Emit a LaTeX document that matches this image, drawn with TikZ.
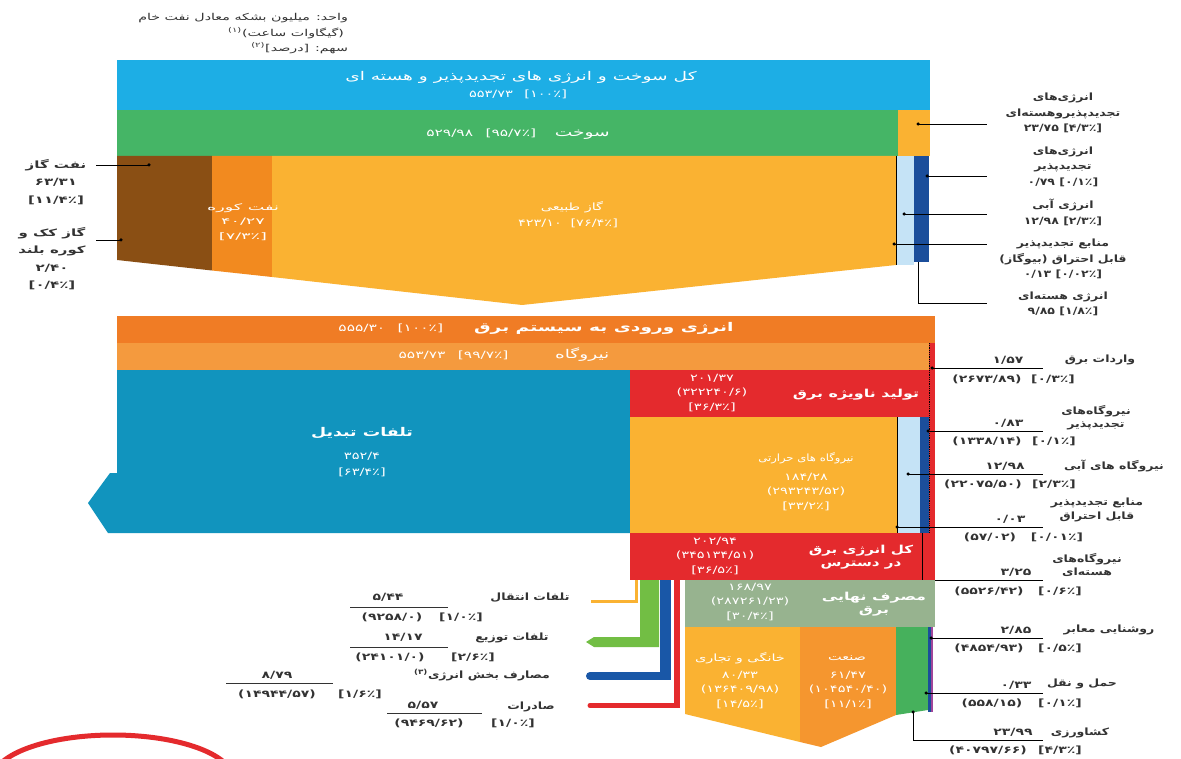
\documentclass[tikz,border=0pt]{standalone}
\usepackage{fontspec}
\newfontfamily\fa[Script=Arabic]{DejaVu Sans}
\TeXXeTstate=1
\newcommand{\rl}[1]{\beginR #1\endR}
\newcommand{\pc}[1]{[#1٪]}
\definecolor{cblue}{HTML}{1DAEE5}
\definecolor{cgreen}{HTML}{45B566}
\definecolor{cyel}{HTML}{FAB232}
\definecolor{cbrown}{HTML}{8A4F14}
\definecolor{cdor}{HTML}{F28A1F}
\definecolor{clblue}{HTML}{C5E3F6}
\definecolor{cdblue}{HTML}{1B4E9B}
\definecolor{corA}{HTML}{F07C25}
\definecolor{corB}{HTML}{F49A3E}
\definecolor{cteal}{HTML}{1194BE}
\definecolor{cred}{HTML}{E42A2D}
\definecolor{cgray}{HTML}{97B38F}
\definecolor{corC}{HTML}{F5962F}
\definecolor{cagr}{HTML}{46B15C}
\definecolor{clgr}{HTML}{72BE44}
\definecolor{cbl}{HTML}{1957A7}
\definecolor{cmag}{HTML}{A0459A}
\definecolor{txt}{HTML}{333333}
\begin{document}
\begin{tikzpicture}[x=1pt,y=-1pt,
  every node/.style={inner sep=0pt, outer sep=0pt, font=\fa\fontsize{8}{10}\selectfont},
  hdr/.style={font=\fa\fontsize{9.5}{11}\selectfont, text=txt, anchor=east, xscale=1.5},
  wt/.style={text=white, align=center, font=\fa\fontsize{10}{14.5}\selectfont, xscale=1.45},
  wl/.style={text=white, align=center, font=\fa\fontsize{10}{13}\selectfont, xscale=1.45},
  wb/.style={text=white, align=center, font=\fa\bfseries\fontsize{11}{13}\selectfont, xscale=1.45},
  wh/.style={text=white, font=\fa\fontsize{12}{14}\selectfont, xscale=1.55},
  dl/.style={text=txt, align=center, font=\fa\bfseries\fontsize{10}{15.5}\selectfont, xscale=1.25},
  dn/.style={text=txt, font=\fa\bfseries\fontsize{10}{12}\selectfont, xscale=1.4},
  lead/.style={draw=black, line width=0.9pt},
  dot/.style={circle, fill=black, minimum size=3.5pt},
  uline/.style={draw=txt, line width=0.9pt}]
\useasboundingbox (0,0) rectangle (1181,759);
\fill[white] (0,0) rectangle (1181,759);

% ---------- header
\node[hdr] (h1) at (348,18) {\rl{واحد: میلیون بشکه معادل نفت خام}};
\node[hdr] (h2) at (344,33) {\rl{(گیگاوات ساعت)\textsuperscript{(۱)}}};
\node[hdr] (h3) at (348,48) {\rl{سهم: [درصد]\textsuperscript{(۲)}}};

% ---------- top section shapes
\fill[cblue] (117,60) rectangle (930,110);
\fill[cgreen] (117,110) rectangle (898,156);
\fill[cyel] (898,110) rectangle (930,156);
\fill[cbrown] (117,156) -- (212,156) -- (212,270.5) -- (117,260) -- cycle;
\fill[cdor] (212,156) -- (272,156) -- (272,277) -- (212,270.5) -- cycle;
\fill[cyel] (272,156) -- (896,156) -- (896,265) -- (522,305) -- (272,277) -- cycle;
\fill[clblue] (896,156) rectangle (914,265);
\fill[cdblue] (914,156) rectangle (929,262);
\coordinate (tl0) at (896,156); \coordinate (tl1) at (896,265);
\draw[line width=0.9pt] (tl0) -- (tl1);

\node[wh] (tb) at (521,77) {\rl{کل سوخت و انرژی های تجدیدپذیر و هسته ای}};
\node[wt] (tbn) at (518,94) {۵۵۳/۷۳\hspace{8pt}\pc{۱۰۰}};
\node[wh] (tg) at (518,134) {\rl{سوخت\hspace{12pt}{\fontsize{10}{12}\selectfont\pc{۹۵/۷}\hspace{8pt}۵۲۹/۹۸}}};
\node[wt, font=\fa\fontsize{9}{14.5}\selectfont, xscale=1.35] (tfo) at (243,222) {\rl{نفت کوره}\\۴۰/۲۷\\\pc{۷/۳}};
\node[wl] (tng) at (572,207) {\rl{گاز طبیعی}};
\node[wt] (tngn) at (568,223) {۴۲۳/۱۰\hspace{6pt}\pc{۷۶/۴}};

% left labels
\node[dl, font=\fa\bfseries\fontsize{10}{17.5}\selectfont, xscale=1.2] (lgo) at (56,182) {\rl{نفت گاز}\\۶۳/۳۱\\\pc{۱۱/۴}};
\node[dl, font=\fa\bfseries\fontsize{10}{17.5}\selectfont, xscale=1.2] (lcg) at (52,258.5) {\rl{گاز کک و}\\\rl{کوره بلند}\\۲/۴۰\\\pc{۰/۴}};
\coordinate (lgoa) at (96,165); \node[dot] (lgod) at (149,165) {};
\coordinate (lcga) at (96,240); \node[dot] (lcgd) at (121,240) {};
\draw[lead] (lgoa) -- (lgod.center);
\draw[lead] (lcga) -- (lcgd.center);

% top right labels
\node[dl] (r0) at (1063,113) {\rl{انرژی‌های}\\\rl{تجدیدپذیروهسته‌ای}\\۲۳/۷۵ \pc{۴/۳}};
\node[dl] (r1) at (1063,166.5) {\rl{انرژی‌های}\\\rl{تجدیدپذیر}\\۰/۷۹ \pc{۰/۱}};
\node[dl] (r2) at (1063,212.5) {\rl{انرژی آبی}\\۱۲/۹۸ \pc{۲/۳}};
\node[dl] (r3) at (1063,259) {\rl{منابع تجدیدپذیر}\\\rl{قابل احتراق (بیوگاز)}\\۰/۱۳ \pc{۰/۰۲}};
\node[dl] (r4) at (1063,304) {\rl{انرژی هسته‌ای}\\۹/۸۵ \pc{۱/۸}};
\node[dot] (d0) at (918,124) {}; \coordinate (e0) at (987,124);
\node[dot] (d1) at (927,176) {}; \coordinate (e1) at (987,176);
\node[dot] (d2) at (904,214) {}; \coordinate (e2) at (987,214);
\node[dot] (d3) at (894,244) {}; \coordinate (e3) at (987,244);
\coordinate (d4) at (918,262); \coordinate (e4) at (987,303);
\draw[lead] (d0.center) -- (e0);
\draw[lead] (d1.center) -- (e1);
\draw[lead] (d2.center) -- (e2);
\draw[lead] (d3.center) -- (e3);
\draw[lead] (d4) |- (e4);

% ---------- middle section shapes
\fill[corA] (117,316) rectangle (935,343);
\fill[corB] (117,343) rectangle (929,370);
\fill[cred] (929,343) rectangle (935,533);
\fill[cteal] (117,370) -- (630,370) -- (630,533) -- (108,533) -- (88,503) -- (110,473) -- (117,473) -- cycle;
\fill[cred] (630,370) rectangle (935,417);
\fill[cyel] (630,417) rectangle (897,533);
\fill[clblue] (897,417) rectangle (920,533);
\fill[cdblue] (920,417) rectangle (929,533);
\coordinate (ml0) at (897,417); \coordinate (ml1) at (897,533);
\draw[line width=0.9pt] (ml0) -- (ml1);
\coordinate (dt0) at (929,343); \coordinate (dt1) at (929,533);
\draw[line width=0.8pt, densely dotted] (dt0) -- (dt1);
\fill[cred] (630,533) rectangle (935,580);

\node[wh, font=\fa\bfseries\fontsize{12}{14}\selectfont] (mi) at (536,328) {\rl{انرژی ورودی به سیستم برق\hspace{20pt}{\mdseries\fontsize{10}{12}\selectfont\pc{۱۰۰}\hspace{8pt}۵۵۵/۳۰}}};
\node[wh] (mp) at (504,355) {\rl{نیروگاه\hspace{30pt}{\fontsize{10}{12}\selectfont\pc{۹۹/۷}\hspace{8pt}۵۵۳/۷۳}}};
\node[wb, font=\fa\bfseries\fontsize{12}{14}\selectfont] (tl) at (362,433) {\rl{تلفات تبدیل}};
\node[wt, font=\fa\fontsize{10}{16}\selectfont] (tln) at (362,465) {۳۵۲/۴\\\pc{۶۳/۴}};
\node[wt] (g1n) at (712,393) {۲۰۱/۳۷\\(۳۲۲۲۴۰/۶)\\\pc{۳۶/۳}};
\node[wb] (g1) at (856,395) {\rl{تولید ناویژه برق}};
\node[wl, xscale=0.8] (th) at (806,458) {\rl{نیروگاه های حرارتی}};
\node[wt] (thn) at (806,492) {۱۸۴/۲۸\\(۲۹۳۲۴۳/۵۲)\\\pc{۳۳/۲}};
\node[wt] (g2n) at (715,556) {۲۰۲/۹۴\\(۳۴۵۱۳۴/۵۱)\\\pc{۳۶/۵}};
\node[wb, xscale=0.95] (g2) at (861,557.5) {\rl{کل انرژی برق}\\\rl{در دسترس}};

% middle right labels
\node[dot] (impd) at (932,368) {}; \coordinate (impe) at (1043,368);
\draw[lead] (impd.center) -- (impe);
\node[dn] (impn) at (1008,360) {۱/۵۷};
\node[dn] (impg) at (987,379) {(۲۶۷۳/۸۹)};
\node[dn] (impp) at (1053,379) {\pc{۰/۳}};
\node[dl] (impl) at (1100,360) {\rl{واردات برق}};

\node[dot] (rpd) at (928,431) {}; \coordinate (rpe) at (1043,431);
\draw[lead] (rpd.center) -- (rpe);
\node[dn] (rpn) at (1008,423) {۰/۸۳};
\node[dn] (rpg) at (987,441) {(۱۳۳۸/۱۴)};
\node[dn] (rpp) at (1054,441) {\pc{۰/۱}};
\node[dl, font=\fa\bfseries\fontsize{10}{13}\selectfont] (rpl) at (1096,417.5) {\rl{نیروگاه‌های}\\\rl{تجدیدپذیر}};

\node[dot] (hpd) at (908,474) {}; \coordinate (hpe) at (1043,474);
\draw[lead] (hpd.center) -- (hpe);
\node[dn] (hpn) at (1005,466) {۱۲/۹۸};
\node[dn] (hpg) at (983,484) {(۲۲۰۷۵/۵۰)};
\node[dn] (hpp) at (1054,484) {\pc{۲/۳}};
\node[dl] (hpl) at (1114,466) {\rl{نیروگاه های آبی}};

\node[dot] (cpd) at (897,527) {}; \coordinate (cpe) at (1043,527);
\draw[lead] (cpd.center) -- (cpe);
\node[dn] (cpn) at (1010,519) {۰/۰۳};
\node[dn] (cpg) at (990,537) {(۵۷/۰۲)};
\node[dn] (cpp) at (1057,537) {\pc{۰/۰۱}};
\node[dl, font=\fa\bfseries\fontsize{10}{14}\selectfont] (cpl) at (1097,510) {\rl{منابع تجدیدپذیر}\\\rl{قابل احتراق}};

\coordinate (npd) at (922,533); \coordinate (npe) at (1043,580);
\draw[lead] (npd) |- (npe);
\node[dn] (npn) at (1016,572) {۳/۲۵};
\node[dn] (npg) at (989,591) {(۵۵۲۶/۴۲)};
\node[dn] (npp) at (1060,591) {\pc{۰/۶}};
\node[dl, font=\fa\bfseries\fontsize{10}{13}\selectfont] (npl) at (1087,564.5) {\rl{نیروگاه‌های}\\\rl{هسته‌ای}};

% ---------- bottom section shapes
\fill[cgray] (685,580) rectangle (935,627);
\fill[cyel] (685,627) -- (800,627) -- (800,742) -- (685,714) -- cycle;
\fill[corC] (800,627) -- (896,627) -- (896,715) -- (821,747) -- (800,742) -- cycle;
\fill[cagr] (896,627) -- (928,627) -- (928,710) -- (896,715) -- cycle;
\fill[cdblue] (928,627) rectangle (931,712);
\fill[cmag] (931,627) rectangle (933,712);

\node[wt] (fen) at (750,602) {۱۶۸/۹۷\\(۲۸۷۲۶۱/۲۳)\\\pc{۳۰/۴}};
\node[wb] (fe) at (874,604) {\rl{مصرف نهایی}\\\rl{برق}};
\node[wl] (hc) at (740,658) {\rl{خانگی و تجاری}};
\node[wt] (hcn) at (740,690) {۸۰/۳۳\\(۱۳۶۴۰۹/۹۸)\\\pc{۱۴/۵}};
\node[wl] (ind) at (847,658) {\rl{صنعت}};
\node[wt] (indn) at (848,690) {۶۱/۴۷\\(۱۰۴۵۴۰/۴۰)\\\pc{۱۱/۱}};

% loss branches
\coordinate (ys) at (636,580); \coordinate (ye) at (591,601);
\draw[cyel, line width=3pt] (ys) |- (ye);
\fill[clgr] (640,580) -- (659,580) -- (659,647) -- (594,647) -- (586,642) -- (594,637) -- (640,637) -- cycle;
\fill[cbl] (660,580) rectangle (671,680);
\coordinate (bs) at (666,676); \coordinate (be) at (590,676);
\draw[cbl, line width=8pt, line cap=round] (bs) -- (be);
\fill[cred] (674,580) rectangle (680,708);
\coordinate (rs) at (677,705.5); \coordinate (re) at (590,705.5);
\draw[cred, line width=5pt, line cap=round] (rs) -- (re);

% bottom right labels
\node[dot] (sld) at (931,638) {}; \coordinate (sle) at (1043,638);
\draw[lead] (sld.center) -- (sle);
\node[dn] (sln) at (1016,630) {۲/۸۵};
\node[dn] (slg) at (989,648) {(۴۸۵۴/۹۳)};
\node[dn] (slp) at (1060,648) {\pc{۰/۵}};
\node[dl] (sll) at (1109,630) {\rl{روشنایی معابر}};

\node[dot] (trd) at (926,693) {}; \coordinate (tre) at (1043,693);
\draw[lead] (trd.center) -- (tre);
\node[dn] (trn) at (1016,685) {۰/۳۳};
\node[dn] (trg) at (992,703) {(۵۵۸/۱۵)};
\node[dn] (trp) at (1060,703) {\pc{۰/۱}};
\node[dl] (trl) at (1082,684) {\rl{حمل و نقل}};

\node[dot] (agd) at (913,712) {}; \coordinate (age) at (1043,740);
\draw[lead] (agd.center) |- (age);
\node[dn] (agn) at (1013,732) {۲۳/۹۹};
\node[dn] (agg) at (988,750) {(۴۰۷۹۷/۶۶)};
\node[dn] (agp) at (1060,750) {\pc{۴/۳}};
\node[dl] (agl) at (1080,733) {\rl{کشاورزی}};

% bottom left labels
\node[dl] (tml) at (530,598) {\rl{تلفات انتقال}};
\node[dn] (tmn) at (388,597) {۵/۴۴};
\coordinate (tma) at (350,607); \coordinate (tmb) at (448,607);
\draw[uline] (tma) -- (tmb);
\node[dn] (tmg) at (392,617) {(۹۲۵۸/۰)};
\node[dn] (tmp) at (461,617) {\pc{۱/۰}};

\node[dl] (dsl) at (512,638) {\rl{تلفات توزیع}};
\node[dn] (dsn) at (403,637) {۱۴/۱۷};
\coordinate (dsa) at (350,647); \coordinate (dsb) at (448,647);
\draw[uline] (dsa) -- (dsb);
\node[dn] (dsg) at (390,657) {(۲۴۱۰۱/۰)};
\node[dn] (dsp) at (473,657) {\pc{۲/۶}};

\node[dl] (esl) at (482,675) {\rl{مصارف بخش انرژی\textsuperscript{(۳)}}};
\node[dn] (esn) at (277,675) {۸/۷۹};
\coordinate (esa) at (226,683); \coordinate (esb) at (333,683);
\draw[uline] (esa) -- (esb);
\node[dn] (esg) at (277,694) {(۱۴۹۴۴/۵۷)};
\node[dn] (esp) at (360,694) {\pc{۱/۶}};

\node[dl] (exl) at (531,707) {\rl{صادرات}};
\node[dn] (exn) at (423,705) {۵/۵۷};
\coordinate (exa) at (387,713); \coordinate (exb) at (482,713);
\draw[uline] (exa) -- (exb);
\node[dn] (exg) at (429,723) {(۹۴۶۹/۶۲)};
\node[dn] (exp) at (513,723) {\pc{۱/۰}};

% red ellipse
\begin{scope}
\clip (0,0) rectangle (1181,759);
\draw[cred, line width=5pt] (113,779) ellipse [x radius=120pt, y radius=44pt];
\end{scope}
\end{tikzpicture}
\end{document}
